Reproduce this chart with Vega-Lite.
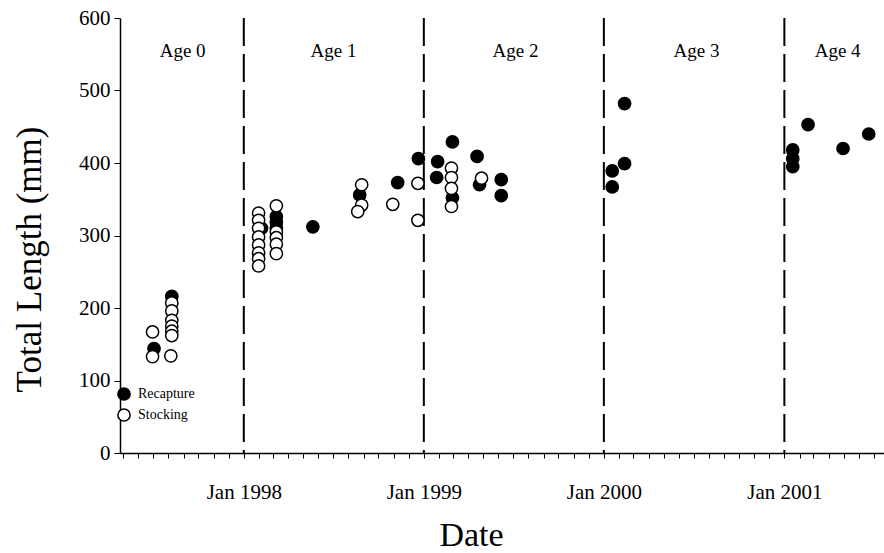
{
  "$schema": "https://vega.github.io/schema/vega-lite/v6.json",
  "width": 764,
  "height": 435,
  "autosize": {"type": "none"},
  "padding": {"left": 120, "top": 18, "right": 0, "bottom": 100},
  "background": "white",
  "config": {
    "view": {"stroke": null},
    "font": "Liberation Serif",
    "axis": {"grid": false, "domainColor": "black", "domainWidth": 1.5, "tickColor": "black", "tickWidth": 1, "labelColor": "black", "titleColor": "black", "labelFont": "Liberation Serif", "titleFont": "Liberation Serif", "titleFontWeight": "normal"}
  },
  "datasets": {
    "fish": [
      {"date": "1997-07-03", "length": 144, "type": "Recapture"},
      {"date": "1997-08-08", "length": 216, "type": "Recapture"},
      {"date": "1998-02-06", "length": 310, "type": "Recapture"},
      {"date": "1998-03-08", "length": 326, "type": "Recapture"},
      {"date": "1998-03-08", "length": 318, "type": "Recapture"},
      {"date": "1998-03-08", "length": 310, "type": "Recapture"},
      {"date": "1998-05-21", "length": 312, "type": "Recapture"},
      {"date": "1998-08-24", "length": 356, "type": "Recapture"},
      {"date": "1998-11-09", "length": 373, "type": "Recapture"},
      {"date": "1998-12-21", "length": 406, "type": "Recapture"},
      {"date": "1999-01-29", "length": 402, "type": "Recapture"},
      {"date": "1999-01-27", "length": 380, "type": "Recapture"},
      {"date": "1999-02-28", "length": 429, "type": "Recapture"},
      {"date": "1999-02-28", "length": 352, "type": "Recapture"},
      {"date": "1999-04-19", "length": 409, "type": "Recapture"},
      {"date": "1999-04-24", "length": 370, "type": "Recapture"},
      {"date": "1999-06-07", "length": 377, "type": "Recapture"},
      {"date": "1999-06-07", "length": 355, "type": "Recapture"},
      {"date": "2000-02-12", "length": 482, "type": "Recapture"},
      {"date": "2000-02-12", "length": 399, "type": "Recapture"},
      {"date": "2000-01-18", "length": 389, "type": "Recapture"},
      {"date": "2000-01-18", "length": 367, "type": "Recapture"},
      {"date": "2001-02-18", "length": 453, "type": "Recapture"},
      {"date": "2001-01-18", "length": 418, "type": "Recapture"},
      {"date": "2001-01-18", "length": 406, "type": "Recapture"},
      {"date": "2001-01-18", "length": 395, "type": "Recapture"},
      {"date": "2001-04-30", "length": 420, "type": "Recapture"},
      {"date": "2001-06-21", "length": 440, "type": "Recapture"},
      {"date": "1997-06-30", "length": 167, "type": "Stocking"},
      {"date": "1997-06-30", "length": 133, "type": "Stocking"},
      {"date": "1997-08-06", "length": 134, "type": "Stocking"},
      {"date": "1997-08-08", "length": 207, "type": "Stocking"},
      {"date": "1997-08-08", "length": 196, "type": "Stocking"},
      {"date": "1997-08-08", "length": 183, "type": "Stocking"},
      {"date": "1997-08-08", "length": 175, "type": "Stocking"},
      {"date": "1997-08-08", "length": 168, "type": "Stocking"},
      {"date": "1997-08-08", "length": 162, "type": "Stocking"},
      {"date": "1998-01-31", "length": 331, "type": "Stocking"},
      {"date": "1998-01-31", "length": 321, "type": "Stocking"},
      {"date": "1998-01-31", "length": 310, "type": "Stocking"},
      {"date": "1998-01-31", "length": 298, "type": "Stocking"},
      {"date": "1998-01-31", "length": 287, "type": "Stocking"},
      {"date": "1998-01-31", "length": 276, "type": "Stocking"},
      {"date": "1998-01-31", "length": 268, "type": "Stocking"},
      {"date": "1998-01-31", "length": 258, "type": "Stocking"},
      {"date": "1998-03-08", "length": 341, "type": "Stocking"},
      {"date": "1998-03-08", "length": 305, "type": "Stocking"},
      {"date": "1998-03-08", "length": 297, "type": "Stocking"},
      {"date": "1998-03-08", "length": 288, "type": "Stocking"},
      {"date": "1998-03-08", "length": 275, "type": "Stocking"},
      {"date": "1998-08-28", "length": 370, "type": "Stocking"},
      {"date": "1998-08-28", "length": 342, "type": "Stocking"},
      {"date": "1998-08-20", "length": 333, "type": "Stocking"},
      {"date": "1998-10-30", "length": 343, "type": "Stocking"},
      {"date": "1998-12-20", "length": 372, "type": "Stocking"},
      {"date": "1998-12-20", "length": 321, "type": "Stocking"},
      {"date": "1999-02-26", "length": 393, "type": "Stocking"},
      {"date": "1999-02-26", "length": 380, "type": "Stocking"},
      {"date": "1999-02-26", "length": 365, "type": "Stocking"},
      {"date": "1999-02-26", "length": 340, "type": "Stocking"},
      {"date": "1999-04-28", "length": 379, "type": "Stocking"}
    ],
    "ages": [
      {"date": "1997-08-30", "y": 555, "label": "Age 0"},
      {"date": "1998-07-02", "y": 555, "label": "Age 1"},
      {"date": "1999-07-06", "y": 555, "label": "Age 2"},
      {"date": "2000-07-07", "y": 555, "label": "Age 3"},
      {"date": "2001-04-19", "y": 555, "label": "Age 4"}
    ],
    "bounds": [
      {"date": "1998-01-01"},
      {"date": "1999-01-01"},
      {"date": "2000-01-01"},
      {"date": "2001-01-01"}
    ]
  },
  "layer": [
    {
      "data": {"name": "bounds"},
      "mark": {"type": "rule", "color": "black", "strokeWidth": 2, "strokeDash": [28, 8]},
      "encoding": {
        "x": {"field": "date", "type": "temporal"}
      }
    },
    {
      "data": {"name": "ages"},
      "mark": {"type": "text", "font": "Liberation Serif", "fontSize": 19, "color": "black", "align": "center", "baseline": "middle"},
      "encoding": {
        "x": {"field": "date", "type": "temporal"},
        "y": {"field": "y", "type": "quantitative"},
        "text": {"field": "label"}
      }
    },
    {
      "data": {"name": "fish"},
      "mark": {"type": "point", "shape": "circle", "filled": true, "stroke": "black", "strokeWidth": 1.5, "size": 150, "opacity": 1},
      "encoding": {
        "x": {
          "field": "date", "type": "temporal",
          "scale": {"type": "utc", "domain": [{"year": 1997, "month": 4, "date": 25, "utc": true}, {"year": 2001, "month": 7, "date": 22, "utc": true}]},
          "axis": {
            "tickCount": {"interval": "month", "step": 1},
            "labelExpr": "utcmonth(datum.value) == 0 ? utcFormat(datum.value, '%b %Y') : ''",
            "labelOverlap": false,
            "labelFlush": false,
            "labelFontSize": 21,
            "labelPadding": 23,
            "tickSize": 5,
            "title": "Date",
            "titleFontSize": 34,
            "titleX": 351,
            "titleY": 92,
            "titleBaseline": "alphabetic"
          }
        },
        "y": {
          "field": "length", "type": "quantitative",
          "scale": {"domain": [0, 600], "nice": false},
          "axis": {
            "values": [0, 100, 200, 300, 400, 500, 600],
            "labelFontSize": 21,
            "labelPadding": 4,
            "tickSize": 6,
            "title": "Total Length (mm)",
            "titleFontSize": 35,
            "titleAngle": -90,
            "titleX": -80,
            "titleY": 241,
            "titleAlign": "center",
            "titleBaseline": "alphabetic"
          }
        },
        "fill": {
          "field": "type", "type": "nominal",
          "scale": {"domain": ["Recapture", "Stocking"], "range": ["black", "white"]},
          "legend": {
            "title": null,
            "orient": "none",
            "legendX": -3,
            "legendY": 369,
            "symbolType": "circle",
            "symbolSize": 150,
            "symbolStrokeColor": "black",
            "symbolStrokeWidth": 1.5,
            "labelFont": "Liberation Serif",
            "labelFontSize": 14,
            "labelColor": "black",
            "labelOffset": 7,
            "rowPadding": 1,
            "encode": {"symbols": {"update": {"fill": {"value": "white"}, "stroke": {"value": "black"}, "strokeWidth": {"value": 1.5}, "opacity": {"value": 1}}}}
          }
        }
      }
    }
  ]
}
